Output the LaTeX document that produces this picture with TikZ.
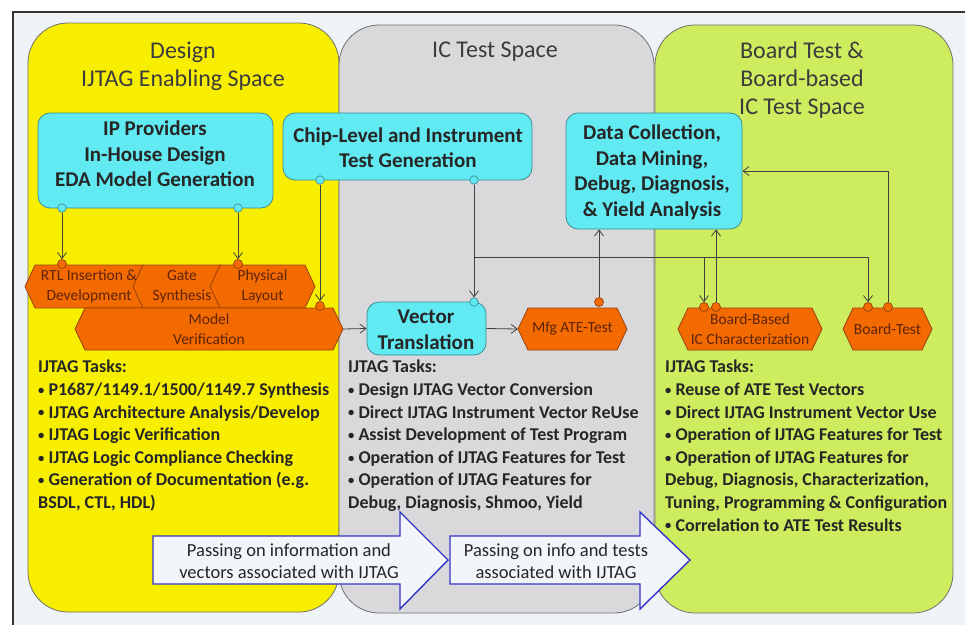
\documentclass[tikz,border=0pt]{standalone}
\usepackage{fontspec}
\usepackage{graphicx}
\setmainfont{Carlito}
\usetikzlibrary{arrows.meta}

\definecolor{bgc}{HTML}{EEF3F7}
\definecolor{yel}{HTML}{F7EE00}
\definecolor{gry}{HTML}{D9D9DB}
\definecolor{grn}{HTML}{CDEC5E}
\definecolor{cyn}{HTML}{62EAF2}
\definecolor{cynd}{HTML}{3D8C95}
\definecolor{org}{HTML}{F26A00}
\definecolor{orgd}{HTML}{9A4010}
\definecolor{orgt}{HTML}{5E240A}
\definecolor{pnl}{HTML}{707070}
\definecolor{txt}{HTML}{262626}
\definecolor{blu}{HTML}{3535C8}
\definecolor{arrbg}{HTML}{F2F6FA}
\definecolor{lin}{HTML}{404040}

\newcommand{\bul}{\raisebox{0.12ex}{\scalebox{0.7}{\textbullet}}}

\newcommand{\hexnode}[6]{%
  \path[hexbox] (#2,{(#4+#5)/2}) -- ({#2+10},#4) -- ({#3-10},#4) -- (#3,{(#4+#5)/2})
     -- ({#3-10},#5) -- ({#2+10},#5) -- cycle;
  \node[hextext, minimum width={(#3-#2)*1pt}, minimum height={(#5-#4)*1pt}]
     (#1) at ({(#2+#3)/2},{(#4+#5)/2}) {#6};}

\begin{document}
\begin{tikzpicture}[x=1pt,y=-1pt,
  panel/.style={draw=pnl, line width=0.8pt, rounded corners=40pt},
  title/.style={text=txt!90, font=\fontsize{24}{28}\selectfont, align=center, inner sep=0},
  cbox/.style={draw=cynd, fill=cyn, rounded corners=12pt, line width=0.8pt, inner sep=0},
  ctext/.style={text=txt, font=\bfseries\fontsize{21}{25.5}\selectfont, align=center, inner sep=0},
  cdot/.style={circle, draw=cynd, fill=cyn, minimum size=8.5pt, inner sep=0, line width=0.7pt},
  odot/.style={circle, draw=orgd, fill=org, minimum size=9pt, inner sep=0, line width=0.7pt},
  conn/.style={draw=lin, line width=0.8pt, -{Straight Barb[length=6pt,width=9pt]}},
  link/.style={draw=lin, line width=0.8pt},
  hexbox/.style={draw=orgd, fill=org, line width=0.8pt},
  hextext/.style={inner sep=0, text=orgt, font=\fontsize{15.5}{19.5}\selectfont, align=center},
  tasks/.style={text=txt, font=\bfseries\fontsize{18}{22.6}\selectfont, align=left, inner sep=0, anchor=north west},
  bigarrow/.style={draw=blu, fill=arrbg, line width=1.4pt, line join=miter},
  atext/.style={text=txt, font=\fontsize{18.5}{22}\selectfont, align=center, inner sep=0}
]
\useasboundingbox (0,0) rectangle (965,624);
\draw[draw=black!80, fill=bgc, line width=1.2pt] (13,12) rectangle (980,640);

% panels
\path[panel, fill=yel] (28,23) rectangle (339,612);
\path[panel, fill=gry] (339,25) rectangle (654,613);
\path[panel, fill=grn] (655,25) rectangle (953,613);

% titles
\node[title] (tt1) at (183,66) {Design\\IJTAG Enabling Space};
\node[title] (tt2) at (495,52) {IC Test Space};
\node[title] (tt3) at (802,80) {Board Test \&\\Board-based\\IC Test Space};

% cyan boxes
\node[cbox, minimum width=235pt, minimum height=95pt] (b1) at (155.5,160.5) {};
\node[ctext] (b1t) at (155,154) {IP Providers\\In-House Design\\EDA Model Generation};
\node[cbox, minimum width=249pt, minimum height=67pt] (b2) at (407.5,146.5) {};
\node[ctext] (b2t) at (408,147.5) {Chip-Level and Instrument\\Test Generation};
\node[cbox, minimum width=176pt, minimum height=116pt] (b3) at (654,171) {};
\node[ctext] (b3t) at (652,172.5) {Data Collection,\\Data Mining,\\Debug, Diagnosis,\\\& Yield Analysis};
\node[cbox, minimum width=119pt, minimum height=53pt] (b4) at (426.5,328.5) {};
\node[ctext] (b4t) at (426,330) {Vector\\Translation};

% orange hexagons
\hexnode{rtl}{25}{153}{265}{308}{RTL Insertion \&\\Development}
\hexnode{gate}{133}{231}{265}{308}{Gate\\Synthesis}
\hexnode{phys}{210}{315}{265}{308}{Physical\\Layout}
\hexnode{mv}{75}{343}{308}{350}{Model\\Verification}
\hexnode{mfg}{518}{627}{308}{350}{Mfg ATE-Test}
\hexnode{bbic}{678}{822}{308}{350}{Board-Based\\IC Characterization}
\hexnode{bt}{843}{932}{308}{350}{Board-Test}

% connection dots
\node[cdot] (cA) at (62,208) {};
\node[cdot] (cB) at (238,208) {};
\node[cdot] (cC) at (320,180) {};
\node[cdot] (cD) at (474,180) {};
\node[cdot] (cE) at (474,302) {};
\node[odot] (oA) at (62,264) {};
\node[odot] (oB) at (238,264) {};
\node[odot] (oC) at (320,306) {};
\node[odot] (oE) at (599,302) {};
\node[odot] (oF) at (704,307) {};
\node[odot] (oG) at (716,307) {};
\node[odot] (oH) at (868,307) {};
\node[odot] (oI) at (888,307) {};

% connectors
\draw[conn] (cA) -- (oA);
\draw[conn] (cB) -- (oB);
\draw[conn] (cC) -- (oC);
\draw[conn] (cD) -- (cE);
\coordinate (j1) at (474,257);
\draw[conn] (j1) -| (oF);
\draw[conn] (j1) -| (oH);
\draw[conn] (oG) -- (oG |- b3.south);
\draw[conn] (oE) -- (oE |- b3.south);
\draw[conn] (oI) |- (b3.east);
\draw[conn] (mv.east) -- (b4.west);
\draw[conn] (b4.east) -- (mfg.west);

% task lists
\node[tasks] (tk1) at (38,360) {IJTAG Tasks:\\
\bul{} P1687/1149.1/1500/1149.7 Synthesis\\
\bul{} IJTAG Architecture Analysis/Develop\\
\bul{} IJTAG Logic Verification\\
\bul{} IJTAG Logic Compliance Checking\\
\bul{} Generation of Documentation (e.g.\\
BSDL, CTL, HDL)};
\node[tasks] (tk2) at (348,360) {IJTAG Tasks:\\
\bul{} Design IJTAG Vector Conversion\\
\bul{} Direct IJTAG Instrument Vector ReUse\\
\bul{} Assist Development of Test Program\\
\bul{} Operation of IJTAG Features for Test\\
\bul{} Operation of IJTAG Features for\\
Debug, Diagnosis, Shmoo, Yield};
\node[tasks] (tk3) at (665,360) {IJTAG Tasks:\\
\bul{} Reuse of ATE Test Vectors\\
\bul{} Direct IJTAG Instrument Vector Use\\
\bul{} Operation of IJTAG Features for Test\\
\bul{} Operation of IJTAG Features for\\
Debug, Diagnosis, Characterization,\\
Tuning, Programming \& Configuration\\
\bul{} Correlation to ATE Test Results};

% big arrows
\path[bigarrow] (153,536) -- (400,536) -- (400,512) -- (448,560) -- (400,609) -- (400,584) -- (153,584) -- cycle;
\node[atext] (a1t) at (289,561) {Passing on information and\\vectors associated with IJTAG};
\path[bigarrow] (450,536) -- (640,536) -- (640,512) -- (690,560) -- (640,609) -- (640,584) -- (450,584) -- cycle;
\node[atext] (a2t) at (556,561) {Passing on info and tests\\associated with IJTAG};
\end{tikzpicture}
\end{document}
